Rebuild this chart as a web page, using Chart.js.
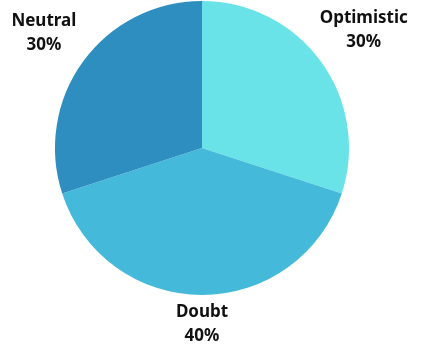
<!DOCTYPE html>
<html>
<head>
<meta charset="utf-8">
<script src="https://cdn.jsdelivr.net/npm/chart.js@4"></script>
<style>
	html, body { margin: 0; padding: 0; background: #ffffff; }
	#wrap { width: 422px; height: 355px; }
</style>
</head>
<body>
<div id="wrap"><canvas id="pieChart"></canvas></div>
<script>
const labels = ['Optimistic', 'Doubt', 'Neutral'];
const shares = [30, 40, 30];
const colors = ['#6ae3e8', '#45b9d9', '#2e8ebf'];
// how far out each label sits, as a multiple of the radius
const labelDist = [1.36, 1.2, 1.33];

const outerLabels = {
	id: 'outerLabels',
	afterDatasetsDraw(chart) {
		const ctx = chart.ctx;
		const meta = chart.getDatasetMeta(0);
		ctx.save();
		ctx.fillStyle = '#111111';
		ctx.font = 'bold 17px "Noto Sans", "Open Sans", sans-serif';
		ctx.textAlign = 'center';
		ctx.textBaseline = 'middle';
		meta.data.forEach((arc, i) => {
			const mid = (arc.startAngle + arc.endAngle) / 2;
			const r = arc.outerRadius * labelDist[i];
			const x = arc.x + Math.cos(mid) * r;
			const y = arc.y + Math.sin(mid) * r;
			ctx.fillText(labels[i], x, y - 12);
			ctx.fillText(shares[i] + '%', x, y + 12);
		});
		ctx.restore();
	}
};

const pieCtx = document.getElementById('pieChart').getContext('2d');
const pieChart = new Chart(pieCtx, {
	type: 'pie',
	data: {
		labels: labels,
		datasets: [{
			data: shares,
			backgroundColor: colors,
			borderWidth: 0
		}]
	},
	options: {
		responsive: true,
		maintainAspectRatio: false,
		animation: false,
		layout: {
			padding: { left: 55, right: 73, top: 1, bottom: 60 }
		},
		plugins: {
			legend: { display: false },
			tooltip: { enabled: false }
		}
	},
	plugins: [outerLabels]
});
</script>
</body>
</html>
